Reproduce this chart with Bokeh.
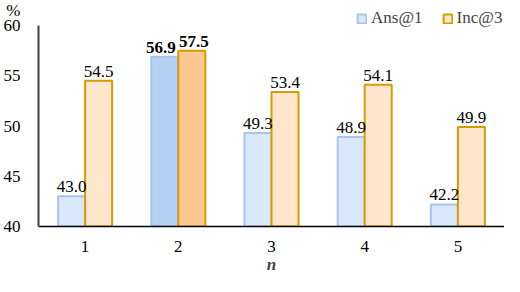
from bokeh.plotting import figure
from bokeh.models import (ColumnDataSource, Range1d, FactorRange, Legend, LegendItem,
                          FixedTicker, LinearAxis)
from bokeh.transform import dodge
from bokeh.core.properties import value
from bokeh.embed import file_html
from bokeh.resources import INLINE

categories = ["1", "2", "3", "4", "5"]
ans1 = [43.0, 56.9, 49.3, 48.9, 42.2]
inc3 = [54.5, 57.5, 53.4, 54.1, 49.9]
highlight = [False, True, False, False, False]
y_ticks = [40, 45, 50, 55, 60]
unit_label = "%"

FONT = "Liberation Serif, Times New Roman, serif"
ans_fill = ["#b5d1f7" if h else "#dae8fc" for h in highlight]
inc_fill = ["#ffc891" if h else "#ffe6cc" for h in highlight]
styles = ["bold" if h else "normal" for h in highlight]
ans_dx = [-4 if h else 0 for h in highlight]   # nudge bold label so neighbours don't touch
inc_dx = [2 if h else 0 for h in highlight]

src = ColumnDataSource(dict(
    cat=categories, ans=ans1, inc=inc3,
    ans_fill=ans_fill, inc_fill=inc_fill, style=styles, ans_dx=ans_dx, inc_dx=inc_dx,
    ans_lbl=[f"{v:.1f}" for v in ans1], inc_lbl=[f"{v:.1f}" for v in inc3],
))

Y_MIN, Y_MAX = 40, 60
Y_TOP = 62.5          # headroom for the legend
UNIT_POS = 61.8       # vertical position of the "%" unit label

p = figure(x_range=FactorRange(*categories, range_padding=0), y_range=Range1d(Y_MIN, Y_TOP),
           width=504, height=276, output_backend="svg", toolbar_location=None,
           min_border_left=30, min_border_right=0, min_border_top=0, min_border_bottom=40)
p.outline_line_color = None
p.grid.grid_line_color = None

BW = 0.29
OFF = 0.145
r_ans = p.vbar(x=dodge("cat", -OFF, range=p.x_range), top="ans", bottom=Y_MIN, width=BW,
               source=src, fill_color="ans_fill", line_color="#a9c4eb", line_width=2)
r_inc = p.vbar(x=dodge("cat", OFF, range=p.x_range), top="inc", bottom=Y_MIN, width=BW,
               source=src, fill_color="inc_fill", line_color="#d79b00", line_width=2)

p.text(x=dodge("cat", -OFF, range=p.x_range), y="ans", text="ans_lbl", source=src,
       text_font=value(FONT), text_font_size="17px", text_font_style="style",
       text_align="center", text_baseline="bottom", x_offset="ans_dx", y_offset=-4,
       text_color="black")
p.text(x=dodge("cat", OFF, range=p.x_range), y="inc", text="inc_lbl", source=src,
       text_font=value(FONT), text_font_size="17px", text_font_style="style",
       text_align="center", text_baseline="bottom", x_offset="inc_dx", y_offset=-4,
       text_color="black")

# default y axis: only the axis line, limited to 40..60
p.yaxis.ticker = FixedTicker(ticks=[])
p.yaxis.bounds = (Y_MIN, Y_MAX)
p.yaxis.axis_line_color = "#404040"
p.yaxis.axis_line_width = 2
p.yaxis.major_tick_line_color = None
p.yaxis.minor_tick_line_color = None
p.yaxis.major_label_standoff = 0

# second y axis: tick labels + unit label, no line
lab_axis = LinearAxis(ticker=FixedTicker(ticks=y_ticks + [UNIT_POS]),
                      major_label_overrides={UNIT_POS: unit_label},
                      axis_line_color=None, major_tick_line_color=None,
                      minor_tick_line_color=None, major_label_standoff=12,
                      major_label_text_font=FONT, major_label_text_font_size="17px",
                      major_label_text_color="black")
p.add_layout(lab_axis, "left")

p.xaxis.major_tick_line_color = None
p.xaxis.minor_tick_line_color = None
p.xaxis.major_label_text_font = FONT
p.xaxis.major_label_text_font_size = "17px"
p.xaxis.major_label_text_color = "black"
p.xaxis.axis_line_color = "black"
p.xaxis.axis_line_width = 1.5
p.xaxis.major_label_standoff = 8
p.xaxis.axis_label = "n"
p.xaxis.axis_label_text_font = FONT
p.xaxis.axis_label_text_font_style = "bold italic"
p.xaxis.axis_label_text_font_size = "17px"
p.xaxis.axis_label_standoff = 0

legend = Legend(items=[LegendItem(label="Ans@1", renderers=[r_ans], index=0),
                       LegendItem(label="Inc@3", renderers=[r_inc], index=0)],
                orientation="horizontal", location=(318, 198),
                label_text_font=FONT, label_text_font_size="17px",
                glyph_width=11, glyph_height=11, spacing=19, padding=0, margin=0,
                label_standoff=4, border_line_color=None, background_fill_alpha=0)
p.add_layout(legend, "center")

open("out.html", "w").write(file_html(p, INLINE))
